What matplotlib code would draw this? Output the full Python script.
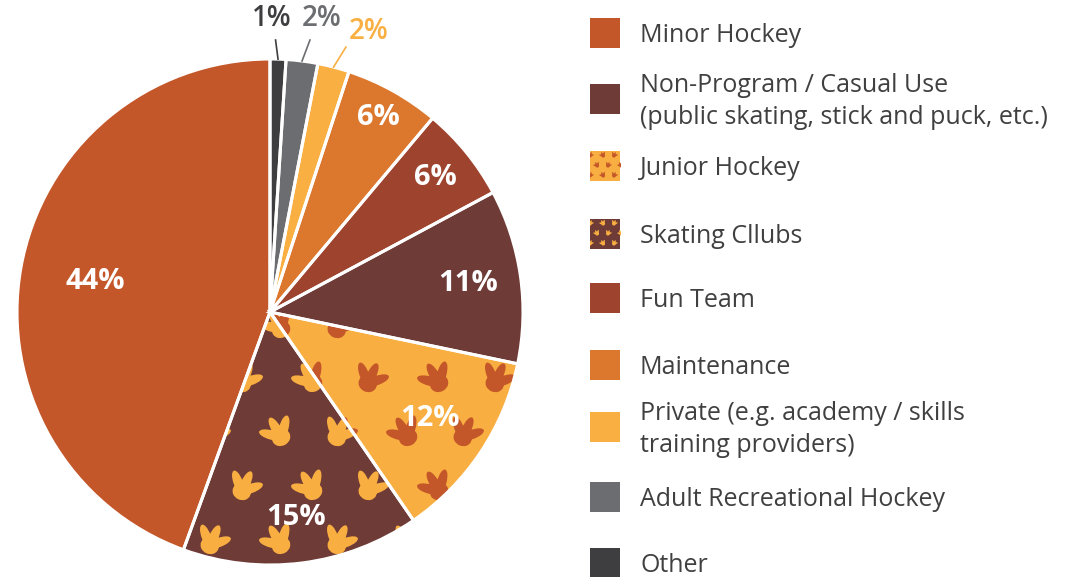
import numpy as np
import matplotlib
matplotlib.use("Agg")
import matplotlib.pyplot as plt
from matplotlib.path import Path
from matplotlib.transforms import Affine2D
from matplotlib.patches import Rectangle

plt.rcParams["font.family"] = ["Open Sans", "DejaVu Sans"]

# data, clockwise from 12 o'clock
categories = ["Other", "Adult Recreational Hockey",
              "Private (e.g. academy / skills\ntraining providers)",
              "Maintenance", "Fun Team",
              "Non-Program / Casual Use\n(public skating, stick and puck, etc.)",
              "Junior Hockey", "Skating Cllubs", "Minor Hockey"]
shares = [1, 2, 2, 6, 6, 11, 12, 15, 44]
pct_labels = ["1%", "2%", "2%", "6%", "6%", "11%", "12%", "15%", "44%"]

colors = ["#3e3e40", "#6c6d71", "#f9af42", "#dc772e", "#9e432d",
          "#6e3b37", "#f8ae41", "#6e3b37", "#c4572a"]
print_colors = {6: "#c4572a", 7: "#f8ae41"}   # footprint pattern

# legend order (indices into categories)
legend_order = [8, 5, 6, 7, 4, 3, 2, 1, 0]
legend_y = [33, 99, 166, 234, 298, 365, 427, 497, 563]

W, H = 1084, 577
CX, CY, R = 270, 312, 253
RA = 265


def footprint():
    heel = Path.unit_circle().transformed(
        Affine2D().scale(0.3, 0.26).translate(0, -0.3))
    toes = [Path.unit_circle().transformed(
        Affine2D().scale(0.15, 0.4).translate(0, 0.33)
        .rotate_deg(a).translate(0, -0.3)) for a in (-45, 0, 45)]
    return Path.make_compound_path(heel, *toes)


FOOT = footprint()


def foot_grid(x0, x1, y0, y1, step):
    xs, ys, rot = [], [], []
    for i, y in enumerate(np.arange(y0, y1, step * 0.85)):
        off = step / 2 if i % 2 else 0
        for j, x in enumerate(np.arange(x0 + off, x1, step)):
            xs.append(x)
            ys.append(y)
            rot.append((i + j) % 2)
    return np.array(xs), np.array(ys), np.array(rot)


fig = plt.figure(figsize=(W / 100, H / 100), dpi=100)

# legend axes in pixel coords
lax = fig.add_axes([0, 0, 1, 1])
lax.set_xlim(0, W)
lax.set_ylim(H, 0)
lax.axis("off")

# pie axes
ax = fig.add_axes([(CX - RA) / W, (H - CY - RA) / H, 2 * RA / W, 2 * RA / H])
lim = RA / R

wedges, _ = ax.pie(shares, colors=colors, startangle=90, counterclock=False,
                   radius=1, wedgeprops=dict(linewidth=0))

rots = [Affine2D().rotate_deg(-25).transform_path(FOOT),
        Affine2D().rotate_deg(30).transform_path(FOOT)]
gx, gy, gr = foot_grid(-1.1, 1.1, -1.1, 1.1, 0.25)
for idx, pc in print_colors.items():
    for k in (0, 1):
        m = gr == k
        sc = ax.scatter(gx[m], gy[m], s=650, marker=rots[k], color=pc,
                        linewidths=0, zorder=2)
        sc.set_clip_path(wedges[idx])

# white separators on top
ax.pie(shares, colors=["none"] * len(shares), startangle=90,
       counterclock=False, radius=1,
       wedgeprops=dict(linewidth=2.2, edgecolor="white", zorder=3))
ax.set_xlim(-lim, lim)
ax.set_ylim(-lim, lim)
ax.set_aspect("equal")
ax.axis("off")

# inside labels
inside_r = {3: 0.88, 4: 0.84, 5: 0.79, 6: 0.76, 7: 0.82, 8: 0.70}
for i, r in inside_r.items():
    w = wedges[i]
    a = np.deg2rad((w.theta1 + w.theta2) / 2)
    ax.text(r * np.cos(a), r * np.sin(a), pct_labels[i], color="white",
            fontsize=21, fontweight="bold", ha="center", va="center", zorder=5)

# outside labels with leader lines
outside = {0: ((0.008, 1.16), (0.022, 1.075)),
           1: ((0.205, 1.16), (0.158, 1.075)),
           2: ((0.39, 1.11), (0.30, 1.047))}
for i, (tpos, lend) in outside.items():
    w = wedges[i]
    a = np.deg2rad((w.theta1 + w.theta2) / 2)
    ax.plot([np.cos(a), lend[0]], [np.sin(a), lend[1]], color=colors[i],
            lw=1.2, zorder=4, clip_on=False)
    ax.text(tpos[0], tpos[1], pct_labels[i], color=colors[i], fontsize=20,
            fontweight="semibold", ha="center", va="center", clip_on=False)

# legend
sq = 30
for idx, yc in zip(legend_order, legend_y):
    rect = Rectangle((590, yc - sq / 2), sq, sq, facecolor=colors[idx],
                     edgecolor="none")
    lax.add_patch(rect)
    if idx in print_colors:
        lx, ly, lr = foot_grid(590, 624, yc - sq / 2 + 3, yc + sq / 2 + 4, 12)
        for k in (0, 1):
            m = lr == k
            sc = lax.scatter(lx[m], ly[m], s=22, marker=rots[k],
                             color=print_colors[idx], linewidths=0)
            sc.set_clip_path(rect)
    lax.text(640, yc + 2.5, categories[idx], color="#404041", fontsize=18,
             ha="left", va="center", linespacing=1.35)

fig.savefig("out.png", dpi=100)
